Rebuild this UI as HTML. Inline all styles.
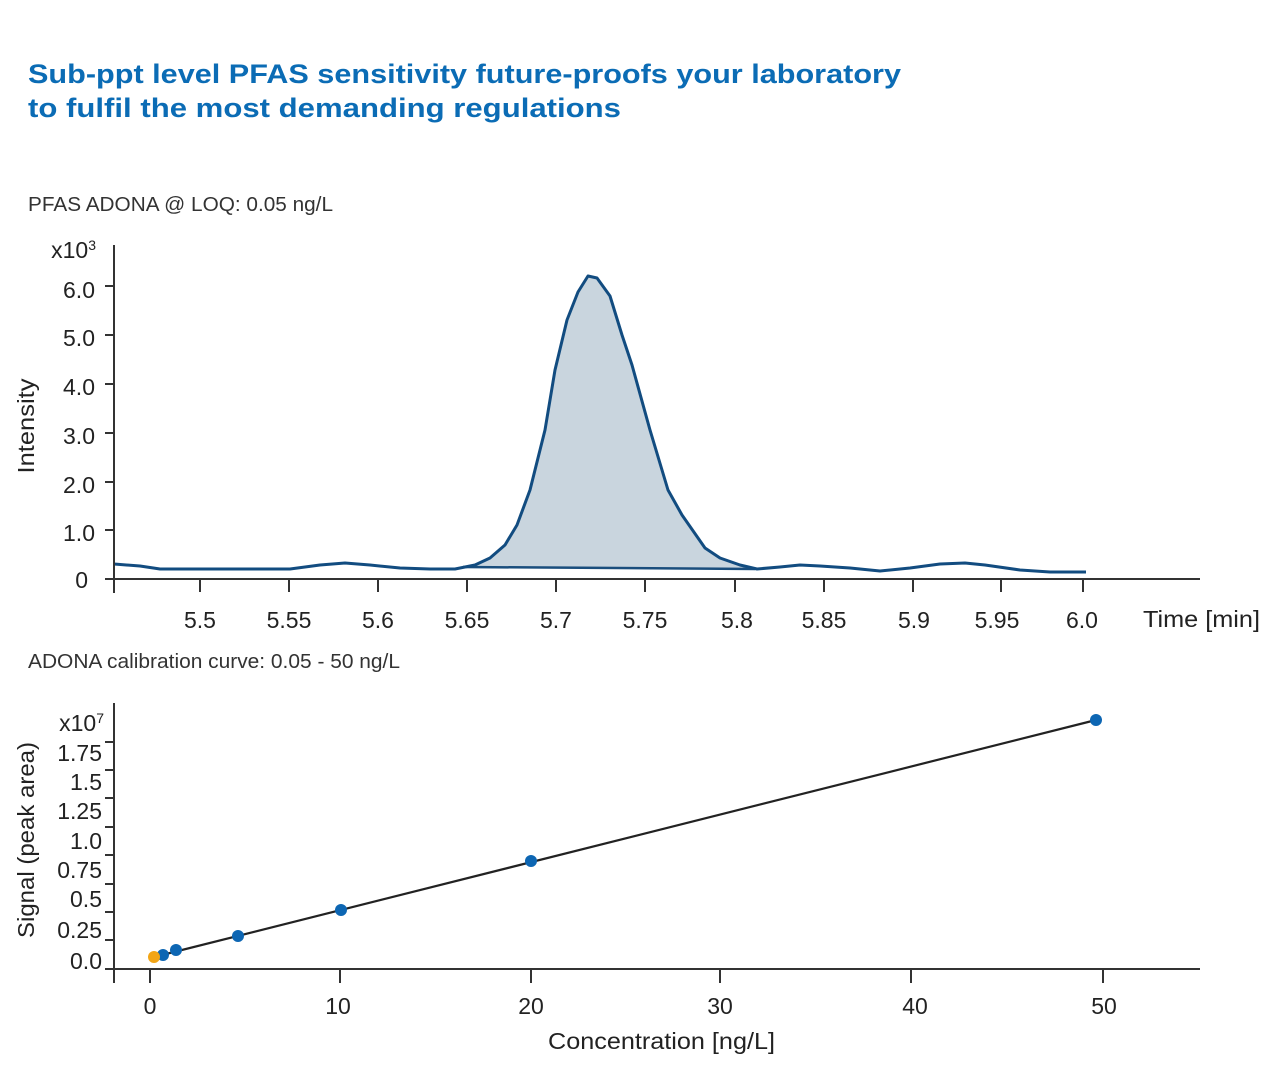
<!DOCTYPE html>
<html><head><meta charset="utf-8"><style>
html,body{margin:0;padding:0;background:#fff;}
svg{display:block;font-family:"Liberation Sans",sans-serif;}
</style></head><body>
<svg width="1280" height="1080" viewBox="0 0 1280 1080">
<g fill="#0b6cb5" font-weight="bold" font-size="27">
<text x="28" y="83" textLength="873" lengthAdjust="spacingAndGlyphs">Sub-ppt level PFAS sensitivity future-proofs your laboratory</text>
<text x="28" y="117" textLength="593" lengthAdjust="spacingAndGlyphs">to fulfil the most demanding regulations</text>
</g>
<g fill="#333" font-size="20">
<text x="28" y="211" textLength="305" lengthAdjust="spacingAndGlyphs">PFAS ADONA @ LOQ: 0.05 ng/L</text>
<text x="28" y="668" textLength="372" lengthAdjust="spacingAndGlyphs">ADONA calibration curve: 0.05 - 50 ng/L</text>
</g>
<!-- top chart -->
<path d="M463,567 L475,565 L490,558 L505,545 L517,525 L530,490 L545,430 L555,370 L567,320 L578,292 L588,276 L597,278 L610,296 L622,335 L632,365 L650,430 L668,490 L682,515 L705,548 L720,558 L740,565 L755,569 Z" fill="#c9d5de"/>
<line x1="463" y1="567" x2="755" y2="569" stroke="#1a4e7d" stroke-width="2.5"/>
<polyline fill="none" stroke="#124c80" stroke-width="3" stroke-linejoin="round" points="114,564 140,566 160,569 290,569 320,565 345,563 370,565 400,568 430,569 455,569 475,565 490,558 505,545 517,525 530,490 545,430 555,370 567,320 578,292 588,276 597,278 610,296 622,335 632,365 650,430 668,490 682,515 705,548 720,558 740,565 757,569 780,567 800,565 820,566 850,568 880,571 910,568 940,564 965,563 985,565 1020,570 1050,572 1086,572"/>
<g stroke="#333" stroke-width="2">
<line x1="114" y1="245" x2="114" y2="593"/>
<line x1="105" y1="579" x2="1200" y2="579"/>
<line x1="105" y1="530" x2="114" y2="530"/><line x1="105" y1="482" x2="114" y2="482"/><line x1="105" y1="433" x2="114" y2="433"/><line x1="105" y1="384" x2="114" y2="384"/><line x1="105" y1="335" x2="114" y2="335"/><line x1="105" y1="286" x2="114" y2="286"/>
<line x1="200" y1="579" x2="200" y2="592"/><line x1="289" y1="579" x2="289" y2="592"/><line x1="378" y1="579" x2="378" y2="592"/><line x1="467" y1="579" x2="467" y2="592"/><line x1="556" y1="579" x2="556" y2="592"/><line x1="645" y1="579" x2="645" y2="592"/><line x1="735" y1="579" x2="735" y2="592"/><line x1="824" y1="579" x2="824" y2="592"/><line x1="913" y1="579" x2="913" y2="592"/><line x1="1001" y1="579" x2="1001" y2="592"/><line x1="1083" y1="579" x2="1083" y2="592"/>
</g>
<g fill="#222" font-size="23" text-anchor="end">
<text x="96" y="258">x10<tspan font-size="14" dy="-8">3</tspan></text>
<text x="95" y="298">6.0</text><text x="95" y="346">5.0</text><text x="95" y="395">4.0</text><text x="95" y="444">3.0</text><text x="95" y="493">2.0</text><text x="95" y="541">1.0</text><text x="88" y="588">0</text>
</g>
<g fill="#222" font-size="23" text-anchor="middle">
<text x="200" y="628">5.5</text><text x="289" y="628">5.55</text><text x="378" y="628">5.6</text><text x="467" y="628">5.65</text><text x="556" y="628">5.7</text><text x="645" y="628">5.75</text><text x="737" y="628">5.8</text><text x="824" y="628">5.85</text><text x="914" y="628">5.9</text><text x="997" y="628">5.95</text><text x="1082" y="628">6.0</text>
</g>
<text x="1143" y="627" fill="#222" font-size="23" textLength="117" lengthAdjust="spacingAndGlyphs">Time [min]</text>
<text transform="translate(34,426) rotate(-90)" fill="#222" font-size="23" text-anchor="middle" textLength="95" lengthAdjust="spacingAndGlyphs">Intensity</text>
<!-- bottom chart -->
<g stroke="#333" stroke-width="2">
<line x1="114" y1="703" x2="114" y2="983"/>
<line x1="105" y1="969" x2="1200" y2="969"/>
<line x1="105" y1="940" x2="114" y2="940"/><line x1="105" y1="912" x2="114" y2="912"/><line x1="105" y1="884" x2="114" y2="884"/><line x1="105" y1="855" x2="114" y2="855"/><line x1="105" y1="827" x2="114" y2="827"/><line x1="105" y1="798" x2="114" y2="798"/><line x1="105" y1="770" x2="114" y2="770"/><line x1="105" y1="742" x2="114" y2="742"/>
<line x1="150" y1="969" x2="150" y2="983"/><line x1="340" y1="969" x2="340" y2="983"/><line x1="531" y1="969" x2="531" y2="983"/><line x1="720" y1="969" x2="720" y2="983"/><line x1="911" y1="969" x2="911" y2="983"/><line x1="1103" y1="969" x2="1103" y2="983"/>
</g>
<line x1="150" y1="958" x2="1096" y2="720" stroke="#222" stroke-width="2.2"/>
<g fill="#0d66b3">
<circle cx="163" cy="955" r="6"/><circle cx="176" cy="950" r="6"/><circle cx="238" cy="936" r="6"/><circle cx="341" cy="910" r="6"/><circle cx="531" cy="861" r="6"/><circle cx="1096" cy="720" r="6"/>
</g>
<circle cx="154" cy="957" r="6" fill="#f2a516"/>
<g fill="#222" font-size="23" text-anchor="end">
<text x="104" y="731">x10<tspan font-size="14" dy="-8">7</tspan></text>
<text x="102" y="761">1.75</text><text x="102" y="790">1.5</text><text x="102" y="819">1.25</text><text x="102" y="849">1.0</text><text x="102" y="878">0.75</text><text x="102" y="907">0.5</text><text x="102" y="938">0.25</text><text x="102" y="969">0.0</text>
</g>
<g fill="#222" font-size="23" text-anchor="middle">
<text x="150" y="1014">0</text><text x="338" y="1014">10</text><text x="531" y="1014">20</text><text x="720" y="1014">30</text><text x="915" y="1014">40</text><text x="1104" y="1014">50</text>
</g>
<text x="548" y="1049" fill="#222" font-size="23" textLength="227" lengthAdjust="spacingAndGlyphs">Concentration [ng/L]</text>
<text transform="translate(34,840) rotate(-90)" fill="#222" font-size="23" text-anchor="middle" textLength="196" lengthAdjust="spacingAndGlyphs">Signal (peak area)</text>
</svg>
</body></html>
